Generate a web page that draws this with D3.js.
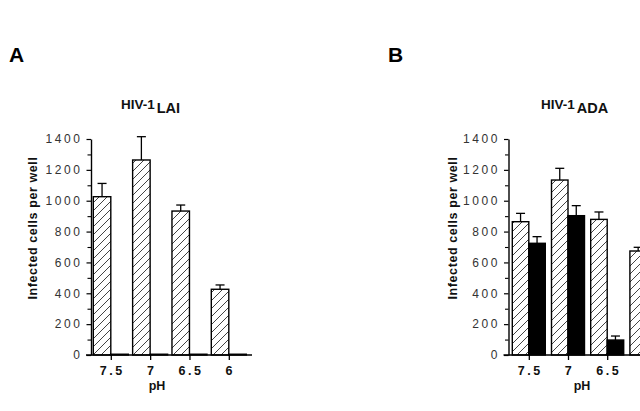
<!DOCTYPE html>
<html><head><meta charset="utf-8">
<script src="https://cdn.jsdelivr.net/npm/d3@7"></script>
<style>body{margin:0;background:#fff} svg{display:block}</style>
</head><body><svg id="c" width="640" height="411"></svg>
<script>
// ---- data ----
const phLabels = ["7.5", "7", "6.5", "6"];
const yTickValues = [0, 200, 400, 600, 800, 1000, 1200, 1400];
const yMinorValues = [100, 300, 500, 700, 900, 1100, 1300];
const laiHatched = [1026, 1264, 933, 426];
const laiHatchedErr = [86, 151, 39, 28];
const laiBlack = [5, 5, 5, 5];
const laiBlackErr = [0, 0, 0, 0];
const adaHatched = [864, 1134, 879, 674];
const adaHatchedErr = [54, 76, 48, 24];
const adaBlack = [724, 903, 97, 60];
const adaBlackErr = [43, 65, 26, 20];

const W = 640;
const svg = d3.select("#c");
const defs = svg.append("defs");
defs.append("pattern").attr("id", "hatch").attr("patternUnits", "userSpaceOnUse")
  .attr("width", 8).attr("height", 8)
  .append("path").attr("d", "M-2,2 l4,-4 M0,8 l8,-8 M6,10 l4,-4")
  .attr("stroke", "#444").attr("stroke-width", 1);

const FONT = "'Liberation Sans', Arial, Helvetica, sans-serif";

function panel(cfg) {
  const g = svg.append("g");
  const y = d3.scaleLinear().domain([0, 1400]).range([355, 139]);
  const x = d3.scalePoint().domain(phLabels).range(cfg.xRange);
  const bw = cfg.bw;

  // panel letter
  g.append("text").attr("x", cfg.letterX).attr("y", 62).text(cfg.letter)
    .attr("font-family", FONT).attr("font-weight", "bold").attr("font-size", 21).attr("fill", "#000");

  // title
  const t = g.append("text").attr("x", cfg.titleX).attr("y", 109)
    .attr("font-family", FONT).attr("font-weight", "bold").attr("font-size", 13.5).attr("fill", "#111");
  t.append("tspan").text("HIV-1");
  t.append("tspan").text(cfg.sub).attr("dy", 4).attr("dx", 2).attr("font-size", 14.5);

  const rows = phLabels.map((p, i) => ({p, h: cfg.hatched[i], he: cfg.hatchedErr[i], b: cfg.black[i], be: cfg.blackErr[i]}));

  // error bars
  const eb = g.append("g").attr("stroke", "#000").attr("stroke-width", 1.3);
  rows.forEach(r => {
    [[r.h, r.he, x(r.p) - bw / 2], [r.b, r.be, x(r.p) + bw / 2]].forEach(([v, e, cx]) => {
      if (!e) return;
      eb.append("line").attr("x1", cx).attr("x2", cx).attr("y1", y(v)).attr("y2", y(v + e));
      eb.append("line").attr("x1", cx - 4.5).attr("x2", cx + 4.5).attr("y1", y(v + e)).attr("y2", y(v + e));
    });
  });

  g.selectAll(".hb").data(rows).join("rect")
    .attr("x", d => x(d.p) - bw).attr("width", bw)
    .attr("y", d => y(d.h)).attr("height", d => y(0) - y(d.h))
    .attr("fill", "url(#hatch)").attr("stroke", "#000").attr("stroke-width", 1.4);
  g.selectAll(".bb").data(rows).join("rect")
    .attr("x", d => x(d.p)).attr("width", bw)
    .attr("y", d => y(d.b)).attr("height", d => y(0) - y(d.b))
    .attr("fill", "#000").attr("stroke", "#000").attr("stroke-width", 1.4);

  // y axis
  const ya = g.append("g").attr("transform", `translate(${cfg.axisX},0)`)
    .call(d3.axisLeft(y).tickValues(yTickValues).tickFormat(d3.format("d"))
      .tickSize(4.5).tickSizeOuter(0).tickPadding(4));
  ya.select(".domain").attr("stroke", "#000").attr("stroke-width", 1.4);
  ya.selectAll(".tick line").attr("stroke", "#000").attr("stroke-width", 1.2);
  ya.selectAll(".tick text").attr("font-family", FONT).attr("font-size", 12)
    .attr("letter-spacing", "2.6px").attr("fill", "#333");
  const ym = g.append("g").attr("transform", `translate(${cfg.axisX},0)`)
    .call(d3.axisLeft(y).tickValues(yMinorValues).tickSize(3.5).tickFormat(""));
  ym.select(".domain").remove();
  ym.selectAll(".tick line").attr("stroke", "#000").attr("stroke-width", 1.1);

  // x axis
  g.append("line").attr("x1", cfg.axisX - 5).attr("x2", cfg.xEnd).attr("y1", y(0)).attr("y2", y(0))
    .attr("stroke", "#000").attr("stroke-width", 1.4);
  const xa = g.append("g").attr("transform", `translate(0,${y(0)})`)
    .call(d3.axisBottom(x).tickSize(5).tickPadding(6));
  xa.select(".domain").remove();
  xa.selectAll(".tick line").attr("stroke", "#000").attr("stroke-width", 1.3);
  xa.selectAll(".tick text").attr("font-family", FONT).attr("font-weight", "bold").attr("font-size", 12.5)
    .attr("letter-spacing", "2.5px").attr("fill", "#111").attr("dx", "1px");
  // labels whose tick lies beyond the picture's right edge are not shown (as in the cropped original)
  xa.selectAll(".tick").filter(d => x(d) + 8 > W).select("text").remove();

  g.append("text").attr("x", cfg.phX).attr("y", 390).attr("text-anchor", "middle").text("pH")
    .attr("font-family", FONT).attr("font-weight", "bold").attr("font-size", 12.5).attr("fill", "#111");

  g.append("text").attr("transform", `translate(${cfg.labelX},228) rotate(-90)`)
    .attr("text-anchor", "middle").text("Infected cells per well")
    .attr("font-family", FONT).attr("font-weight", "bold").attr("font-size", 12.5)
    .attr("letter-spacing", "0.6px").attr("fill", "#111");
}

panel({letter: "A", letterX: 9, titleX: 121, sub: "LAI", axisX: 91, xRange: [110.8, 228.8], bw: 17.5, xEnd: 252,
  hatched: laiHatched, hatchedErr: laiHatchedErr, black: laiBlack, blackErr: laiBlackErr, phX: 157, labelX: 37});
panel({letter: "B", letterX: 388, titleX: 541, sub: "ADA", axisX: 508.5, xRange: [528.8, 646.4], bw: 16.5, xEnd: 700,
  hatched: adaHatched, hatchedErr: adaHatchedErr, black: adaBlack, blackErr: adaBlackErr, phX: 582, labelX: 457});
</script></body></html>
